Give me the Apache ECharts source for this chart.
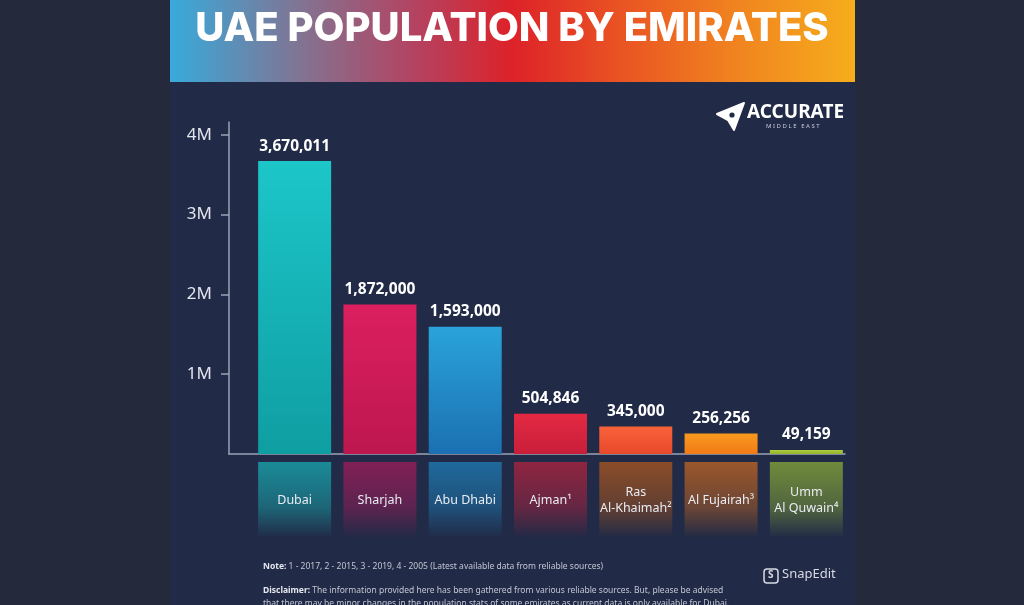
<!DOCTYPE html>
<html lang="en">
<head>
  <meta charset="UTF-8">
  <title>UAE Population by Emirates</title>
  <script src="https://cdn.jsdelivr.net/npm/echarts@6/dist/echarts.min.js"></script>
  <style>
    html, body { margin: 0; padding: 0; background: #242a3b; }
    #main { width: 1024px; height: 605px; }
  </style>
</head>
<body>
  <div id="main"></div>
  <script type="text/javascript">
    // data
    var emirates = ['Dubai', 'Sharjah', 'Abu Dhabi', 'Ajman¹', 'Ras\nAl-Khaimah²', 'Al Fujairah³', 'Umm\nAl Quwain⁴'];
    var population = [3670011, 1872000, 1593000, 504846, 345000, 256256, 49159];
    var tickValues = [1000000, 2000000, 3000000, 4000000];
    var tickLabels = ['1M', '2M', '3M', '4M'];

    // styles
    var barTop = ['#1cc6c9', '#dc1f5f', '#2aa3da', '#e42a42', '#f8623a', '#f89a1e', '#b0cc3c'];
    var barBottom = ['#0f9ea2', '#bd174f', '#1b70b2', '#c81e3a', '#e8492b', '#f27a18', '#92b22e'];
    var boxColor = ['26,150,160', '140,30,88', '30,112,165', '155,36,64', '150,80,36', '168,92,40', '120,150,58'];

    var yMax = 4160000;
    var font = '"Noto Sans", "Open Sans", sans-serif';

    var myChart = echarts.init(document.getElementById('main'));

    var barData = population.map(function (v, i) {
      return {
        value: v,
        itemStyle: {
          color: new echarts.graphic.LinearGradient(0, 0, 0, 1, [
            { offset: 0, color: barTop[i] },
            { offset: 1, color: barBottom[i] }
          ])
        }
      };
    });

    // one backdrop box per category, holding its name
    var boxData = emirates.map(function (name, i) {
      return {
        value: 1,
        itemStyle: {
          color: new echarts.graphic.LinearGradient(0, 0, 0, 1, [
            { offset: 0, color: 'rgba(' + boxColor[i] + ',0.9)' },
            { offset: 0.6, color: 'rgba(' + boxColor[i] + ',0.55)' },
            { offset: 1, color: 'rgba(' + boxColor[i] + ',0)' }
          ])
        }
      };
    });

    var option = {
      backgroundColor: '#242a3b',
      animation: false,
      title: {
        text: 'UAE POPULATION BY EMIRATES',
        left: 'center',
        top: 4,
        textStyle: {
          color: '#ffffff',
          fontSize: 40,
          fontWeight: 800,
          fontFamily: 'Inter, "Noto Sans", sans-serif'
        }
      },
      graphic: [
        { type: 'rect', z: -10, shape: { x: 170, y: 82, width: 685, height: 523 }, style: { fill: '#212a46' } },
        {
          type: 'rect', z: -5, shape: { x: 170, y: 0, width: 685, height: 82 },
          style: {
            fill: new echarts.graphic.LinearGradient(0, 0, 1, 0, [
              { offset: 0, color: '#38aadb' },
              { offset: 0.2, color: '#85718f' },
              { offset: 0.36, color: '#b44260' },
              { offset: 0.5, color: '#dd2229' },
              { offset: 0.65, color: '#e95123' },
              { offset: 0.82, color: '#f08220' },
              { offset: 1, color: '#f6ad1c' }
            ])
          }
        },
        // logo
        {
          type: 'polygon',
          shape: { points: [[717, 114], [744, 103], [734, 130], [728, 120]] },
          style: { fill: '#ffffff', lineJoin: 'round', stroke: '#ffffff', lineWidth: 2 }
        },
        {
          type: 'circle', shape: { cx: 732, cy: 115, r: 2.6 }, style: { fill: '#212a46' }
        },
        {
          type: 'text', left: 747, top: 103,
          style: { text: 'ACCURATE', fill: '#ffffff', fontSize: 19, fontWeight: 'bold', fontFamily: font }
        },
        {
          type: 'text', left: 766, top: 123,
          style: { text: 'M I D D L E   E A S T', fill: '#c9ccd6', fontSize: 6, fontFamily: font }
        },
        // notes
        {
          type: 'text', left: 263, top: 562,
          style: {
            text: '{b|Note:} 1 - 2017, 2 - 2015, 3 - 2019, 4 - 2005 (Latest available data from reliable sources)',
            fill: '#c3c7d3', fontSize: 8.5, fontFamily: font,
            rich: { b: { fontWeight: 'bold', fill: '#e6e8ef', fontSize: 8.5, fontFamily: font } }
          }
        },
        {
          type: 'text', left: 263, top: 584,
          style: {
            text: '{b|Disclaimer:} The information provided here has been gathered from various reliable sources. But, please be advised\nthat there may be minor changes in the population stats of some emirates as current data is only available for Dubai.',
            fill: '#c3c7d3', fontSize: 8.5, lineHeight: 13, fontFamily: font,
            rich: { b: { fontWeight: 'bold', fill: '#e6e8ef', fontSize: 8.5, lineHeight: 13, fontFamily: font } }
          }
        },
        {
          type: 'rect', shape: { x: 764, y: 569, width: 14, height: 14, r: 3 },
          style: { fill: 'none', stroke: '#d8dbe4', lineWidth: 1.5 }
        },
        {
          type: 'text', left: 768, top: 570,
          style: { text: 'S', fill: '#d8dbe4', fontSize: 10, fontWeight: 'bold', fontFamily: font }
        },
        {
          type: 'text', left: 782, top: 568,
          style: { text: 'SnapEdit', fill: '#d8dbe4', fontSize: 13, fontFamily: font }
        }
      ],
      grid: [
        { left: 229, right: 179, top: 122, bottom: 151 },
        { left: 252, right: 175, top: 122, bottom: 151 },
        { left: 252, right: 175, top: 462, height: 76 }
      ],
      xAxis: [
        {
          gridIndex: 0, type: 'category', data: emirates,
          axisLine: { show: true, lineStyle: { color: '#9aa2b6', width: 1.5 } },
          axisTick: { show: false }, axisLabel: { show: false }
        },
        {
          gridIndex: 1, type: 'category', data: emirates,
          axisLine: { show: false }, axisTick: { show: false }, axisLabel: { show: false }
        },
        {
          gridIndex: 2, type: 'category', data: emirates,
          axisLine: { show: false }, axisTick: { show: false }, axisLabel: { show: false }
        }
      ],
      yAxis: [
        {
          gridIndex: 0, type: 'value', min: 0, max: yMax,
          splitLine: { show: false },
          axisLine: { show: true, lineStyle: { color: '#9aa2b6', width: 1.5 } },
          axisTick: { show: true, length: 8, customValues: tickValues, lineStyle: { color: '#9aa2b6', width: 1.5 } },
          axisLabel: {
            customValues: tickValues,
            margin: 17,
            color: '#e2e5ee',
            fontSize: 17,
            fontFamily: font,
            formatter: function (v) { return tickLabels[tickValues.indexOf(v)] || ''; }
          }
        },
        { gridIndex: 1, type: 'value', min: 0, max: yMax, show: false },
        { gridIndex: 2, type: 'value', min: 0, max: 1, inverse: true, show: false }
      ],
      series: [
        {
          name: 'Population',
          type: 'bar',
          xAxisIndex: 1, yAxisIndex: 1,
          barWidth: 73,
          data: barData,
          label: {
            show: true,
            position: 'top',
            distance: 7,
            color: '#ffffff',
            fontSize: 15.5,
            fontWeight: 'bold',
            fontFamily: font,
            formatter: function (p) { return p.value.toLocaleString('en-US'); }
          }
        },
        {
          name: 'Labels',
          type: 'bar',
          xAxisIndex: 2, yAxisIndex: 2,
          barWidth: 73,
          data: boxData,
          label: {
            show: true,
            position: 'inside',
            color: '#e9ecf3',
            fontSize: 12.5,
            lineHeight: 16,
            fontFamily: font,
            formatter: function (p) { return p.name; }
          }
        }
      ]
    };

    myChart.setOption(option);
  </script>
</body>
</html>
